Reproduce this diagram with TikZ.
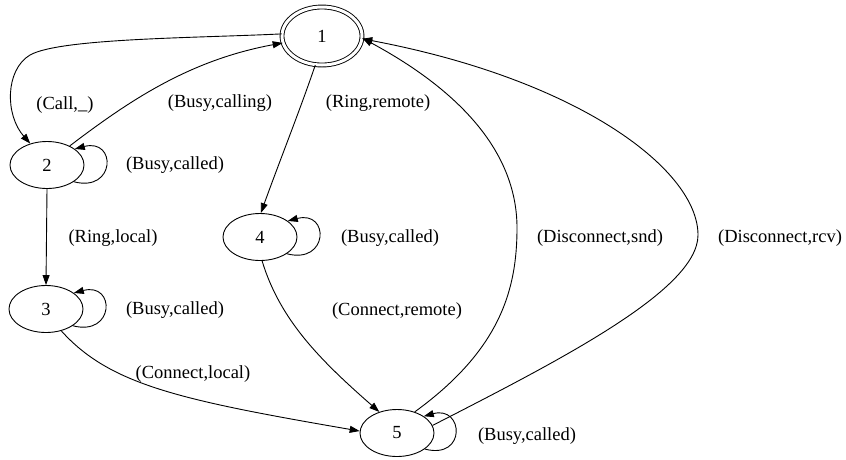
\documentclass[tikz,border=0pt]{standalone}
\usepackage{fontspec}
\setmainfont{Liberation Serif}
\usetikzlibrary{shapes.geometric,arrows.meta}
\begin{document}
\begin{tikzpicture}[x=1pt,y=-1pt,
  font=\fontsize{18.5}{21}\selectfont,
  state/.style={ellipse,draw,line width=0.9pt,minimum width=74pt,minimum height=47pt,inner sep=0pt},
  accept/.style={state,double,double distance=3pt,line width=0.9pt,minimum width=80pt,minimum height=58pt},
  trans/.style={line width=0.9pt,-{Triangle[length=10pt,width=7pt]}},
  lbl/.style={inner sep=0pt,anchor=center}]
\useasboundingbox (0,0) rectangle (846,459);

% states
\node[accept] (n1) at (322,36) {1};
\node[state] (n2) at (47,165) {2};
\node[state] (n3) at (46,309) {3};
\node[state] (n4) at (260,237) {4};
\node[state] (n5) at (397,433) {5};

% transitions
\draw[trans] (n1.177) .. controls (200,38) and (60,38) .. (30,55)
  .. controls (5,70) and (5,115) .. (n2.128);
\draw[trans] (n2.40) .. controls (130,100) and (190,60) .. (n1.190);
\draw[trans] (n1.257) .. controls (300,110) and (280,160) .. (n4.88);
\draw[trans] (n2.south) -- (n3.north);
\draw[trans] (n3.-55) .. controls (110,385) and (180,400) .. (n5.177);
\draw[trans] (n4.-85) .. controls (280,320) and (320,360) .. (n5.130);
\draw[trans] (n5.50) .. controls (500,350) and (517,290) .. (517,228)
  .. controls (517,140) and (440,80) .. (n1.357);
\draw[trans] (n5.12) .. controls (560,360) and (698,290) .. (698,235)
  .. controls (698,170) and (580,80) .. (n1.356);

% self loops
\draw[trans] (n2.-32) .. controls +(42,11) and +(42,-11) .. (n2.30);
\draw[trans] (n3.-32) .. controls +(42,11) and +(42,-11) .. (n3.30);
\draw[trans] (n4.-32) .. controls +(42,11) and +(42,-11) .. (n4.30);
\draw[trans] (n5.-30) .. controls +(42,11) and +(40,-11) .. (n5.32);

% labels
\node[lbl] (l12) at (65,105) {(Call,\_)};
\node[lbl] (l21) at (220,103) {(Busy,calling)};
\node[lbl] (l14) at (378,103) {(Ring,remote)};
\node[lbl] (l22) at (175,165) {(Busy,called)};
\node[lbl] (l23) at (113,238) {(Ring,local)};
\node[lbl] (l44) at (390,238) {(Busy,called)};
\node[lbl] (l51s) at (600,238) {(Disconnect,snd)};
\node[lbl] (l51r) at (780,238) {(Disconnect,rcv)};
\node[lbl] (l33) at (175,310) {(Busy,called)};
\node[lbl] (l45) at (397,311) {(Connect,remote)};
\node[lbl] (l35) at (193,374) {(Connect,local)};
\node[lbl] (l55) at (527,436) {(Busy,called)};
\end{tikzpicture}
\end{document}
